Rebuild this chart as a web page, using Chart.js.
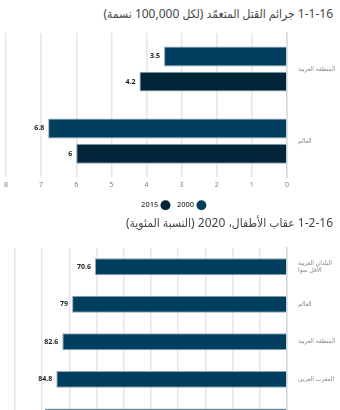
<!DOCTYPE html>
<html lang="ar" dir="rtl">
<head>
<meta charset="utf-8">
<title>16-1-1 / 16-2-1</title>
<script src="https://cdn.jsdelivr.net/npm/chart.js@4/dist/chart.umd.min.js"></script>
<style>
    html, body { margin: 0; padding: 0; overflow: hidden; background: #fff; }
    body { width: 340px; height: 410px; position: relative; font-family: 'Noto Sans', 'DejaVu Sans Condensed', sans-serif; }
    .title { position: absolute; right: 7px; font-size: 12px; line-height: 18px; color: #474747; white-space: nowrap; direction: rtl; }
    .box { position: absolute; left: 0; width: 340px; }
</style>
</head>
<body>
<div class="title" style="top:5px">1-1-16 جرائم القتل المتعمّد (لكل 100,000 نسمة)</div>
<div class="box" style="top:22px;height:197px"><canvas id="homicideChart"></canvas></div>
<div class="title" style="top:214px">1-2-16 عقاب الأطفال، 2020 (النسبة المئوية)</div>
<div class="box" style="top:238px;height:214px"><canvas id="punishmentChart"></canvas></div>

<script>
// chart data
const homicideCategories = ['المنطقة العربية', 'العالم'];
const homicideYears = ['2000', '2015'];
const homicide2000 = [3.5, 6.8];
const homicide2015 = [4.2, 6];

const punishmentCategories = [['البلدان العربية', 'الأقل نموا'], 'العالم', 'المنطقة العربية', 'المغرب العربي', 'دول مجلس التعاون الخليجي'];
const punishmentValues = [70.6, 79, 82.6, 84.8, 89];

(function () {
    'use strict';

    const COLOR_2000 = '#023f5e';
    const COLOR_2015 = '#03253a';
    const BAR_EDGE = '#8ea7b8';
    const GRID = '#e6e6e6';

    // draws the value at the end of each bar
    const valueLabels = {
        id: 'valueLabels',
        afterDatasetsDraw(chart) {
            const ctx = chart.ctx;
            ctx.save();
            ctx.font = 'bold 7px "Open Sans", sans-serif';
            ctx.fillStyle = '#1e1e1e';
            ctx.textAlign = 'right';
            ctx.textBaseline = 'middle';
            chart.data.datasets.forEach((ds, i) => {
                chart.getDatasetMeta(i).data.forEach((bar, j) => {
                    ctx.fillText(String(ds.data[j]), bar.x - 4, bar.y);
                });
            });
            ctx.restore();
        }
    };

    function _scales(max, step) {
        return {
            x: {
                reverse: true,
                min: 0,
                max: max,
                ticks: { stepSize: step, color: '#777', font: { size: 7, family: 'Open Sans' }, padding: 4 },
                grid: { color: GRID, lineWidth: 1.5, tickLength: 0 },
                border: { display: false }
            },
            y: {
                position: 'right',
                ticks: { color: '#8a8a8a', font: { size: 6.5, family: 'DejaVu Sans Condensed' }, padding: 3 },
                grid: { display: false },
                border: { color: '#d3dbe2', width: 1.5 },
                afterFit(axis) { axis.width = 53; }
            }
        };
    }

    new Chart(document.getElementById('homicideChart'), {
        type: 'bar',
        data: {
            labels: homicideCategories,
            datasets: [
                { label: homicideYears[0], data: homicide2000, backgroundColor: COLOR_2000, borderColor: BAR_EDGE, borderWidth: 1, categoryPercentage: 0.7, barPercentage: 0.79 },
                { label: homicideYears[1], data: homicide2015, backgroundColor: COLOR_2015, borderColor: BAR_EDGE, borderWidth: 1, categoryPercentage: 0.7, barPercentage: 0.79 }
            ]
        },
        options: {
            indexAxis: 'y',
            responsive: true,
            maintainAspectRatio: false,
            animation: false,
            layout: { padding: { top: 11, left: 6, right: 0, bottom: 0 } },
            scales: _scales(8, 1),
            plugins: {
                legend: {
                    position: 'bottom',
                    rtl: true,
                    labels: {
                        usePointStyle: true,
                        pointStyle: 'circle',
                        boxWidth: 7,
                        boxHeight: 7,
                        padding: 8,
                        color: '#444',
                        font: { size: 7.5, weight: '600', family: 'Open Sans' },
                        generateLabels(chart) {
                            return chart.data.datasets.map((ds, i) => ({
                                text: ds.label,
                                fillStyle: ds.backgroundColor,
                                strokeStyle: ds.backgroundColor,
                                lineWidth: 0,
                                pointStyle: 'circle',
                                datasetIndex: i,
                                fontColor: '#444'
                            }));
                        }
                    }
                },
                tooltip: { enabled: false }
            }
        },
        plugins: [valueLabels]
    });

    new Chart(document.getElementById('punishmentChart'), {
        type: 'bar',
        data: {
            labels: punishmentCategories,
            datasets: [
                { label: '2020', data: punishmentValues, backgroundColor: COLOR_2000, borderColor: BAR_EDGE, borderWidth: 1, categoryPercentage: 1, barPercentage: 0.45 }
            ]
        },
        options: {
            indexAxis: 'y',
            responsive: true,
            maintainAspectRatio: false,
            animation: false,
            layout: { padding: { top: 10, left: 15, right: 0, bottom: 0 } },
            scales: _scales(100, 10),
            plugins: {
                legend: { display: false },
                tooltip: { enabled: false }
            }
        },
        plugins: [valueLabels]
    });
})();
</script>
</body>
</html>
